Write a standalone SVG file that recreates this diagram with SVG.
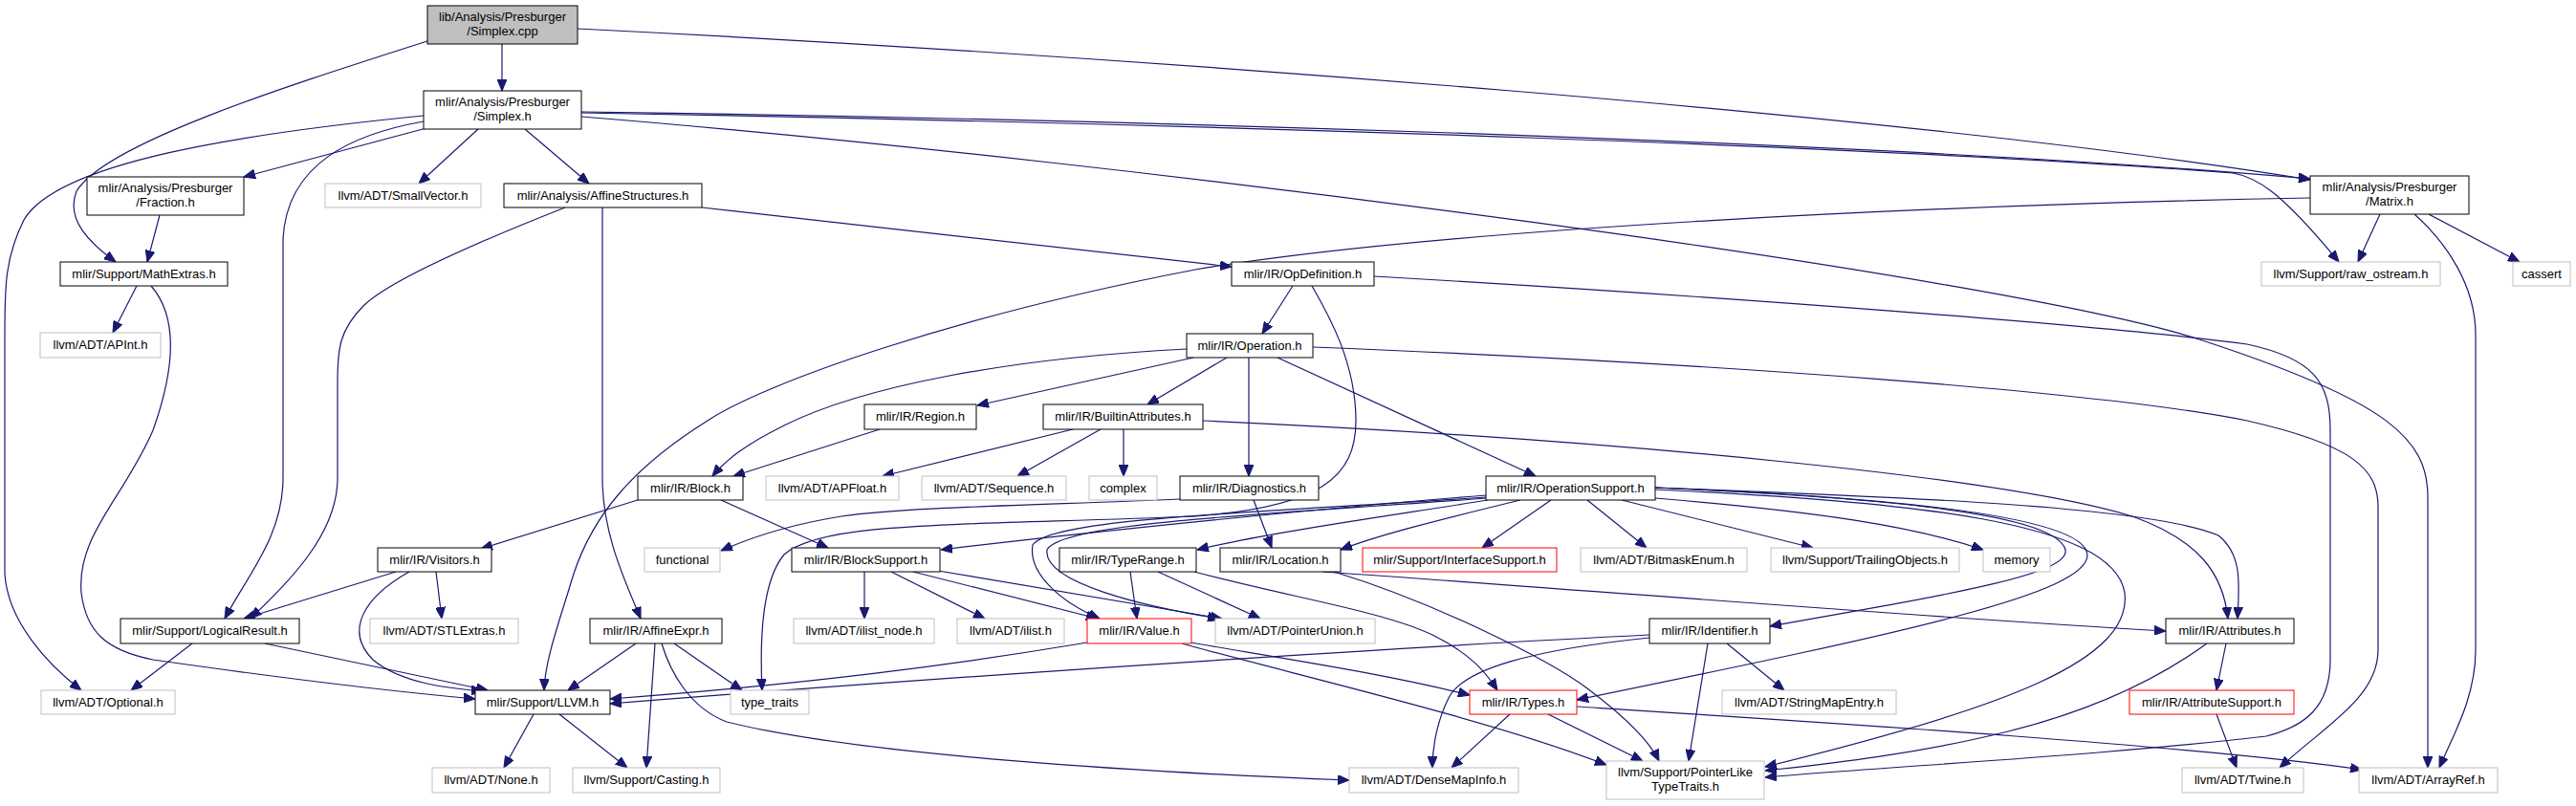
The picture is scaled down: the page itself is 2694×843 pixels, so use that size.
<svg xmlns="http://www.w3.org/2000/svg" width="2694" height="843" viewBox="0 0 2694 843">
<style>
rect{stroke-width:1}
.b rect{fill:#fff;stroke:#000}
.g rect{fill:#fff;stroke:#bfbfbf}
.r rect{fill:#fff;stroke:#ff0000}
.root rect{fill:#bfbfbf;stroke:#000}
text{font-family:"Liberation Sans",Arial,Helvetica,sans-serif;font-size:13px;text-anchor:middle;fill:#000}
#edges path{fill:none;stroke:#191970;stroke-width:1.2;marker-end:url(#a)}
</style>
<defs><marker id="a" markerUnits="userSpaceOnUse" markerWidth="12" markerHeight="10" viewBox="0 0 11 9" refX="11" refY="4.5" orient="auto"><path d="M0,0L11,4.5L0,9z" fill="#191970" stroke="#191970"/></marker></defs>
<rect width="2694" height="843" fill="#fff"/>
<g id="edges">
<path d="M525,46L525,95"/>
<path d="M447,43C300,90 110,150 80,200C68,230 95,255 121,274"/>
<path d="M604,30C1200,60 2000,120 2416,188"/>
<path d="M446,134L255,185"/>
<path d="M500,135L438,192"/>
<path d="M549,135L616,192"/>
<path d="M608,117C1200,125 2000,150 2416,187"/>
<path d="M608,118C1300,130 2000,155 2335,181C2360,185 2385,200 2446,274"/>
<path d="M608,122C1200,170 2100,290 2300,355C2500,420 2539,460 2539,520L2539,803"/>
<path d="M443,121C250,140 60,170 25,230C5,270 5,300 5,350L5,600C8,650 50,695 85,722"/>
<path d="M443,127C370,140 300,170 296,250L296,500C296,560 260,600 235,647"/>
<path d="M167,225L154,274"/>
<path d="M734,217L1288,279"/>
<path d="M591,217C520,245 410,290 380,320C355,345 353,365 353,400L353,500C353,560 300,610 262,647"/>
<path d="M630,217L630,500C630,560 655,610 670,647"/>
<path d="M2489,224L2466,274"/>
<path d="M2540,224L2635,274"/>
<path d="M2525,224C2560,255 2589,300 2589,350L2589,680C2589,730 2565,770 2551,803"/>
<path d="M2416,207C2000,215 1500,240 1250,282C1000,330 800,400 740,440C660,490 620,540 600,600C585,650 570,690 569,722"/>
<path d="M143,299L118,348"/>
<path d="M158,299C185,330 185,380 160,450C130,520 80,560 85,620C90,660 110,680 160,690C300,710 430,725 497,731"/>
<path d="M1352,299L1320,349"/>
<path d="M1437,289C1800,310 2200,340 2350,360C2420,375 2437,400 2437,450L2437,690C2437,740 2410,760 2370,770C2200,790 2000,800 1846,813"/>
<path d="M1372,299C1390,330 1418,380 1418,440C1418,500 1380,530 1250,540C1000,550 860,545 820,580C795,610 795,680 797,722"/>
<path d="M1241,365C1050,375 900,405 820,445C780,465 760,480 745,498"/>
<path d="M1248,374L1022,424"/>
<path d="M1283,374L1200,423"/>
<path d="M1306,374L1306,498"/>
<path d="M1336,374L1606,498"/>
<path d="M1373,363C1800,380 2200,410 2350,440C2460,465 2487,490 2487,530L2487,680C2487,730 2430,760 2384,803"/>
<path d="M920,449L767,498"/>
<path d="M1122,449L923,498"/>
<path d="M1151,449L1064,498"/>
<path d="M1175,449L1175,498"/>
<path d="M1258,440C1700,460 2100,500 2230,540C2300,565 2325,600 2330,647"/>
<path d="M670,522L503,574"/>
<path d="M754,523L866,573"/>
<path d="M1234,522C1100,528 950,530 880,540C830,548 790,560 754,576"/>
<path d="M1311,523L1330,573"/>
<path d="M1554,518C1400,530 1150,555 984,575"/>
<path d="M1556,523C1450,540 1320,558 1252,575"/>
<path d="M1590,523C1500,545 1440,560 1402,575"/>
<path d="M1554,520C1350,535 1100,540 1080,570C1075,600 1110,630 1150,647"/>
<path d="M1555,521C1350,537 1110,545 1095,575C1090,610 1200,635 1275,647"/>
<path d="M1622,523L1550,573"/>
<path d="M1660,523L1722,573"/>
<path d="M1696,523L1896,573"/>
<path d="M1731,521C1900,535 2000,550 2074,575"/>
<path d="M1731,510C2000,520 2250,530 2320,560C2345,580 2342,610 2340,647"/>
<path d="M1731,510C1950,520 2150,535 2160,575C2165,600 2050,620 1851,655"/>
<path d="M1731,510C1980,520 2180,540 2183,580C2185,620 2000,660 1649,732"/>
<path d="M1731,512C2000,525 2210,545 2222,620C2230,690 2100,740 1846,802"/>
<path d="M1182,598L1189,647"/>
<path d="M1211,598L1318,647"/>
<path d="M1249,598C1350,625 1450,640 1500,665C1540,685 1555,705 1566,722"/>
<path d="M1383,598C1700,620 2000,645 2265,660"/>
<path d="M1395,598C1500,630 1620,690 1660,720C1700,750 1725,775 1735,796"/>
<path d="M414,598L255,647"/>
<path d="M456,598L462,647"/>
<path d="M428,598C380,625 360,660 390,690C420,715 470,720 505,723"/>
<path d="M201,673L137,722"/>
<path d="M277,673L510,722"/>
<path d="M665,673L594,722"/>
<path d="M685,673L676,803"/>
<path d="M705,673L776,722"/>
<path d="M692,673C700,700 720,740 760,755C900,790 1200,808 1411,816"/>
<path d="M558,747L527,803"/>
<path d="M585,747L656,803"/>
<path d="M904,598L904,647"/>
<path d="M932,598L1030,647"/>
<path d="M955,598L1148,647"/>
<path d="M981,597L1278,647"/>
<path d="M1137,672C1000,695 850,715 638,731"/>
<path d="M1725,664C1400,680 900,715 638,736"/>
<path d="M1245,672C1350,690 1450,705 1537,727"/>
<path d="M1236,673C1350,705 1550,750 1680,800"/>
<path d="M1725,667C1600,680 1530,700 1515,730C1500,760 1498,790 1498,803"/>
<path d="M1806,673L1866,722"/>
<path d="M1786,673L1766,796"/>
<path d="M1579,747L1518,803"/>
<path d="M1619,747L1718,796"/>
<path d="M1649,739C1900,755 2300,780 2470,805"/>
<path d="M2328,673L2318,722"/>
<path d="M2308,673C2250,715 2180,745 2100,765C2000,790 1900,800 1846,806"/>
<path d="M2318,747L2339,803"/>
</g>
<g id="n_simplex_cpp" class="root"><rect x="447" y="6" width="157" height="40"/><text x="525.5" y="22">lib/Analysis/Presburger</text><text x="525.5" y="37">/Simplex.cpp</text></g>
<g id="n_simplex_h" class="b"><rect x="443" y="95" width="165" height="40"/><text x="525.5" y="111">mlir/Analysis/Presburger</text><text x="525.5" y="126">/Simplex.h</text></g>
<g id="n_fraction" class="b"><rect x="91" y="185" width="164" height="40"/><text x="173" y="201">mlir/Analysis/Presburger</text><text x="173" y="216">/Fraction.h</text></g>
<g id="n_smallvector" class="g"><rect x="340" y="192" width="163" height="25"/><text x="421.5" y="209">llvm/ADT/SmallVector.h</text></g>
<g id="n_affinestructures" class="b"><rect x="527" y="192" width="207" height="25"/><text x="630.5" y="209">mlir/Analysis/AffineStructures.h</text></g>
<g id="n_matrix" class="b"><rect x="2416" y="184" width="166" height="40"/><text x="2499" y="200">mlir/Analysis/Presburger</text><text x="2499" y="215">/Matrix.h</text></g>
<g id="n_mathextras" class="b"><rect x="63" y="274" width="175" height="25"/><text x="150.5" y="291">mlir/Support/MathExtras.h</text></g>
<g id="n_opdefinition" class="b"><rect x="1288" y="274" width="149" height="25"/><text x="1362.5" y="291">mlir/IR/OpDefinition.h</text></g>
<g id="n_raw_ostream" class="g"><rect x="2365" y="274" width="187" height="25"/><text x="2458.5" y="291">llvm/Support/raw_ostream.h</text></g>
<g id="n_cassert" class="g"><rect x="2628" y="274" width="60" height="25"/><text x="2658" y="291">cassert</text></g>
<g id="n_apint" class="g"><rect x="42" y="348" width="126" height="26"/><text x="105" y="365">llvm/ADT/APInt.h</text></g>
<g id="n_operation" class="b"><rect x="1241" y="349" width="132" height="25"/><text x="1307" y="366">mlir/IR/Operation.h</text></g>
<g id="n_region" class="b"><rect x="904" y="423" width="117" height="26"/><text x="962.5" y="440">mlir/IR/Region.h</text></g>
<g id="n_builtinattributes" class="b"><rect x="1091" y="423" width="167" height="26"/><text x="1174.5" y="440">mlir/IR/BuiltinAttributes.h</text></g>
<g id="n_block" class="b"><rect x="667" y="498" width="110" height="25"/><text x="722" y="515">mlir/IR/Block.h</text></g>
<g id="n_apfloat" class="g"><rect x="801" y="498" width="139" height="25"/><text x="870.5" y="515">llvm/ADT/APFloat.h</text></g>
<g id="n_sequence" class="g"><rect x="964" y="498" width="151" height="25"/><text x="1039.5" y="515">llvm/ADT/Sequence.h</text></g>
<g id="n_complex" class="g"><rect x="1139" y="498" width="71" height="25"/><text x="1174.5" y="515">complex</text></g>
<g id="n_diagnostics" class="b"><rect x="1234" y="498" width="145" height="25"/><text x="1306.5" y="515">mlir/IR/Diagnostics.h</text></g>
<g id="n_operationsupport" class="b"><rect x="1554" y="498" width="177" height="25"/><text x="1642.5" y="515">mlir/IR/OperationSupport.h</text></g>
<g id="n_visitors" class="b"><rect x="395" y="573" width="119" height="25"/><text x="454.5" y="590">mlir/IR/Visitors.h</text></g>
<g id="n_functional" class="g"><rect x="674" y="573" width="79" height="25"/><text x="713.5" y="590">functional</text></g>
<g id="n_blocksupport" class="b"><rect x="828" y="573" width="155" height="25"/><text x="905.5" y="590">mlir/IR/BlockSupport.h</text></g>
<g id="n_typerange" class="b"><rect x="1108" y="573" width="143" height="25"/><text x="1179.5" y="590">mlir/IR/TypeRange.h</text></g>
<g id="n_location" class="b"><rect x="1276" y="573" width="126" height="25"/><text x="1339" y="590">mlir/IR/Location.h</text></g>
<g id="n_interfacesupport" class="r"><rect x="1425" y="573" width="203" height="25"/><text x="1526.5" y="590">mlir/Support/InterfaceSupport.h</text></g>
<g id="n_bitmaskenum" class="g"><rect x="1653" y="573" width="174" height="25"/><text x="1740" y="590">llvm/ADT/BitmaskEnum.h</text></g>
<g id="n_trailingobjects" class="g"><rect x="1852" y="573" width="197" height="25"/><text x="1950.5" y="590">llvm/Support/TrailingObjects.h</text></g>
<g id="n_memory" class="g"><rect x="2074" y="573" width="70" height="25"/><text x="2109" y="590">memory</text></g>
<g id="n_logicalresult" class="b"><rect x="126" y="647" width="187" height="26"/><text x="219.5" y="664">mlir/Support/LogicalResult.h</text></g>
<g id="n_stlextras" class="g"><rect x="387" y="647" width="155" height="26"/><text x="464.5" y="664">llvm/ADT/STLExtras.h</text></g>
<g id="n_affineexpr" class="b"><rect x="617" y="647" width="138" height="26"/><text x="686" y="664">mlir/IR/AffineExpr.h</text></g>
<g id="n_ilist_node" class="g"><rect x="830" y="647" width="147" height="26"/><text x="903.5" y="664">llvm/ADT/ilist_node.h</text></g>
<g id="n_ilist" class="g"><rect x="1001" y="647" width="112" height="26"/><text x="1057" y="664">llvm/ADT/ilist.h</text></g>
<g id="n_value" class="r"><rect x="1137" y="647" width="109" height="26"/><text x="1191.5" y="664">mlir/IR/Value.h</text></g>
<g id="n_pointerunion" class="g"><rect x="1271" y="647" width="167" height="26"/><text x="1354.5" y="664">llvm/ADT/PointerUnion.h</text></g>
<g id="n_identifier" class="b"><rect x="1725" y="647" width="126" height="26"/><text x="1788" y="664">mlir/IR/Identifier.h</text></g>
<g id="n_attributes" class="b"><rect x="2265" y="647" width="134" height="26"/><text x="2332" y="664">mlir/IR/Attributes.h</text></g>
<g id="n_optional" class="g"><rect x="43" y="722" width="140" height="25"/><text x="113" y="739">llvm/ADT/Optional.h</text></g>
<g id="n_llvm" class="b"><rect x="497" y="722" width="141" height="25"/><text x="567.5" y="739">mlir/Support/LLVM.h</text></g>
<g id="n_type_traits" class="g"><rect x="764" y="722" width="82" height="25"/><text x="805" y="739">type_traits</text></g>
<g id="n_types" class="r"><rect x="1537" y="722" width="112" height="25"/><text x="1593" y="739">mlir/IR/Types.h</text></g>
<g id="n_stringmapentry" class="g"><rect x="1801" y="722" width="182" height="25"/><text x="1892" y="739">llvm/ADT/StringMapEntry.h</text></g>
<g id="n_attributesupport" class="r"><rect x="2227" y="722" width="172" height="25"/><text x="2313" y="739">mlir/IR/AttributeSupport.h</text></g>
<g id="n_none" class="g"><rect x="452" y="803" width="123" height="26"/><text x="513.5" y="820">llvm/ADT/None.h</text></g>
<g id="n_casting" class="g"><rect x="599" y="803" width="154" height="26"/><text x="676" y="820">llvm/Support/Casting.h</text></g>
<g id="n_densemapinfo" class="g"><rect x="1411" y="803" width="177" height="26"/><text x="1499.5" y="820">llvm/ADT/DenseMapInfo.h</text></g>
<g id="n_pointerlike" class="g"><rect x="1680" y="796" width="165" height="40"/><text x="1762.5" y="812">llvm/Support/PointerLike</text><text x="1762.5" y="827">TypeTraits.h</text></g>
<g id="n_twine" class="g"><rect x="2282" y="803" width="127" height="26"/><text x="2345.5" y="820">llvm/ADT/Twine.h</text></g>
<g id="n_arrayref" class="g"><rect x="2467" y="803" width="145" height="26"/><text x="2539.5" y="820">llvm/ADT/ArrayRef.h</text></g>
</svg>
